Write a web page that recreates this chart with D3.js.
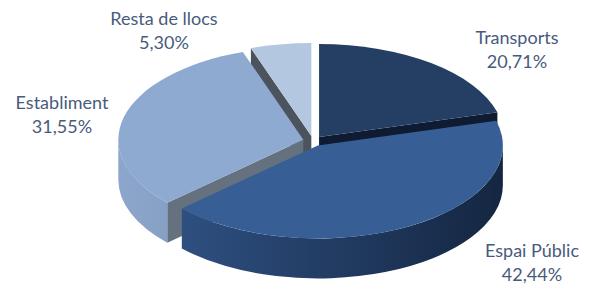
<!DOCTYPE html>
<html>
<head>
<meta charset="utf-8">
<script src="https://cdn.jsdelivr.net/npm/d3@7"></script>
<style>
  body { margin: 0; background: #fff; }
  svg { display: block; }
  .lbl { font-family: Lato, "Open Sans", sans-serif; font-size: 18px; fill: #485b7c; }
</style>
</head>
<body>
<svg id="chart"></svg>
<script>
// data (clockwise from 12 o'clock)
const categories = ["Transports", "Espai Públic", "Establiment", "Resta de llocs"];
const values = [20.71, 42.44, 31.55, 5.30];

// styles
const topColors = ["#243f63", "#375f95", "#8eaad1", "#b4c7e1"];
const cutColors = ["#0e1b32", "#1c3457", "#66717f", "#4b535d"];
const wallColors = [["#1c3457", "#13233f"], ["#2e4f80", "#142641"], ["#8ca6cc", "#7790b4"], ["#9fb3d1", "#8ea3c2"]];
// label anchors: centre x, first baseline y
const labelAt = [[517, 44], [532, 257], [62, 109], [164, 25]];

const W = 594, H = 284;
const pie3d = {
  cx: 313, cy: 141, rx: 185, ry: 93,
  depth: 40,
  explode: 10,
};

const fmt = d3.formatLocale({decimal: ",", thousands: ".", grouping: [3], currency: ["", "€"]}).format(".2f");

const svg = d3.select("#chart").attr("width", W).attr("height", H);
const defs = svg.append("defs");

const arcs = d3.pie().sort(null).value(d => d)(values);
const k = pie3d.ry / pie3d.rx;

arcs.forEach((s, i) => {
  const mid = (s.startAngle + s.endAngle) / 2;
  s.i = i;
  s.ox = pie3d.explode * Math.sin(mid);
  s.oy = -pie3d.explode * k * Math.cos(mid);
});

// projected point of a slice: angle, radius (0..1), drop (px)
const pt = (s, a, r, h) => [
  pie3d.cx + s.ox + r * pie3d.rx * Math.sin(a),
  pie3d.cy + s.oy - r * pie3d.ry * Math.cos(a) + h
];

const topPath = s => {
  const large = s.endAngle - s.startAngle > Math.PI ? 1 : 0;
  return `M${pt(s, 0, 0, 0)}L${pt(s, s.startAngle, 1, 0)}A${pie3d.rx},${pie3d.ry} 0 ${large} 1 ${pt(s, s.endAngle, 1, 0)}Z`;
};

const cutPath = (s, a) => {
  const t = pie3d.depth;
  return `M${pt(s, 0, 0, 0)}L${pt(s, a, 1, 0)}L${pt(s, a, 1, t)}L${pt(s, 0, 0, t)}Z`;
};

// collect visible side faces
let sides = [];
arcs.forEach(s => {
  // outer wall: only the front half shows
  const a0 = Math.max(s.startAngle, Math.PI / 2), a1 = Math.min(s.endAngle, 3 * Math.PI / 2);
  if (a0 < a1) {
    const t = pie3d.depth;
    const p0 = pt(s, a0, 1, 0), p1 = pt(s, a1, 1, 0);
    const gid = "wall" + s.i;
    const xs = [p0[0], p1[0], pt(s, Math.PI, 1, 0)[0]];
    if (a0 < Math.PI / 2 + 1e-6) xs.push(pt(s, Math.PI / 2, 1, 0)[0]);
    if (a1 > 3 * Math.PI / 2 - 1e-6) xs.push(pt(s, 3 * Math.PI / 2, 1, 0)[0]);
    const g = defs.append("linearGradient").attr("id", gid)
      .attr("gradientUnits", "userSpaceOnUse")
      .attr("x1", d3.min(xs)).attr("x2", d3.max(xs)).attr("y1", 0).attr("y2", 0);
    g.append("stop").attr("offset", 0).attr("stop-color", wallColors[s.i][0]);
    g.append("stop").attr("offset", 1).attr("stop-color", wallColors[s.i][1]);
    sides.push({
      d: `M${p0}A${pie3d.rx},${pie3d.ry} 0 0 1 ${p1}L${pt(s, a1, 1, t)}A${pie3d.rx},${pie3d.ry} 0 0 0 ${pt(s, a0, 1, t)}Z`,
      fill: `url(#${gid})`,
      z: pt(s, (a0 + a1) / 2, 1, 0)[1]
    });
  }
  // cut faces facing the viewer
  if (Math.sin(s.startAngle) < -1e-6) {
    sides.push({d: cutPath(s, s.startAngle), fill: cutColors[s.i],
      z: (pt(s, 0, 0, 0)[1] + pt(s, s.startAngle, 1, 0)[1]) / 2});
  }
  if (Math.sin(s.endAngle) > 1e-6) {
    sides.push({d: cutPath(s, s.endAngle), fill: cutColors[s.i],
      z: (pt(s, 0, 0, 0)[1] + pt(s, s.endAngle, 1, 0)[1]) / 2});
  }
});
sides.sort((a, b) => a.z - b.z);

svg.append("g").selectAll("path")
  .data(sides)
  .join("path")
  .attr("d", d => d.d)
  .attr("fill", d => d.fill);

svg.append("g").selectAll("path")
  .data(arcs)
  .join("path")
  .attr("d", topPath)
  .attr("fill", d => topColors[d.i]);

// labels
const lbl = svg.append("g").selectAll("text")
  .data(arcs)
  .join("text")
  .attr("class", "lbl")
  .attr("text-anchor", "middle")
  .attr("transform", d => `translate(${labelAt[d.i][0]},${labelAt[d.i][1]})`);
lbl.append("tspan").attr("x", 0).attr("y", 0).text(d => categories[d.i]);
lbl.append("tspan").attr("x", 0).attr("y", 24).text(d => fmt(d.data) + "%");
</script>
</body>
</html>
